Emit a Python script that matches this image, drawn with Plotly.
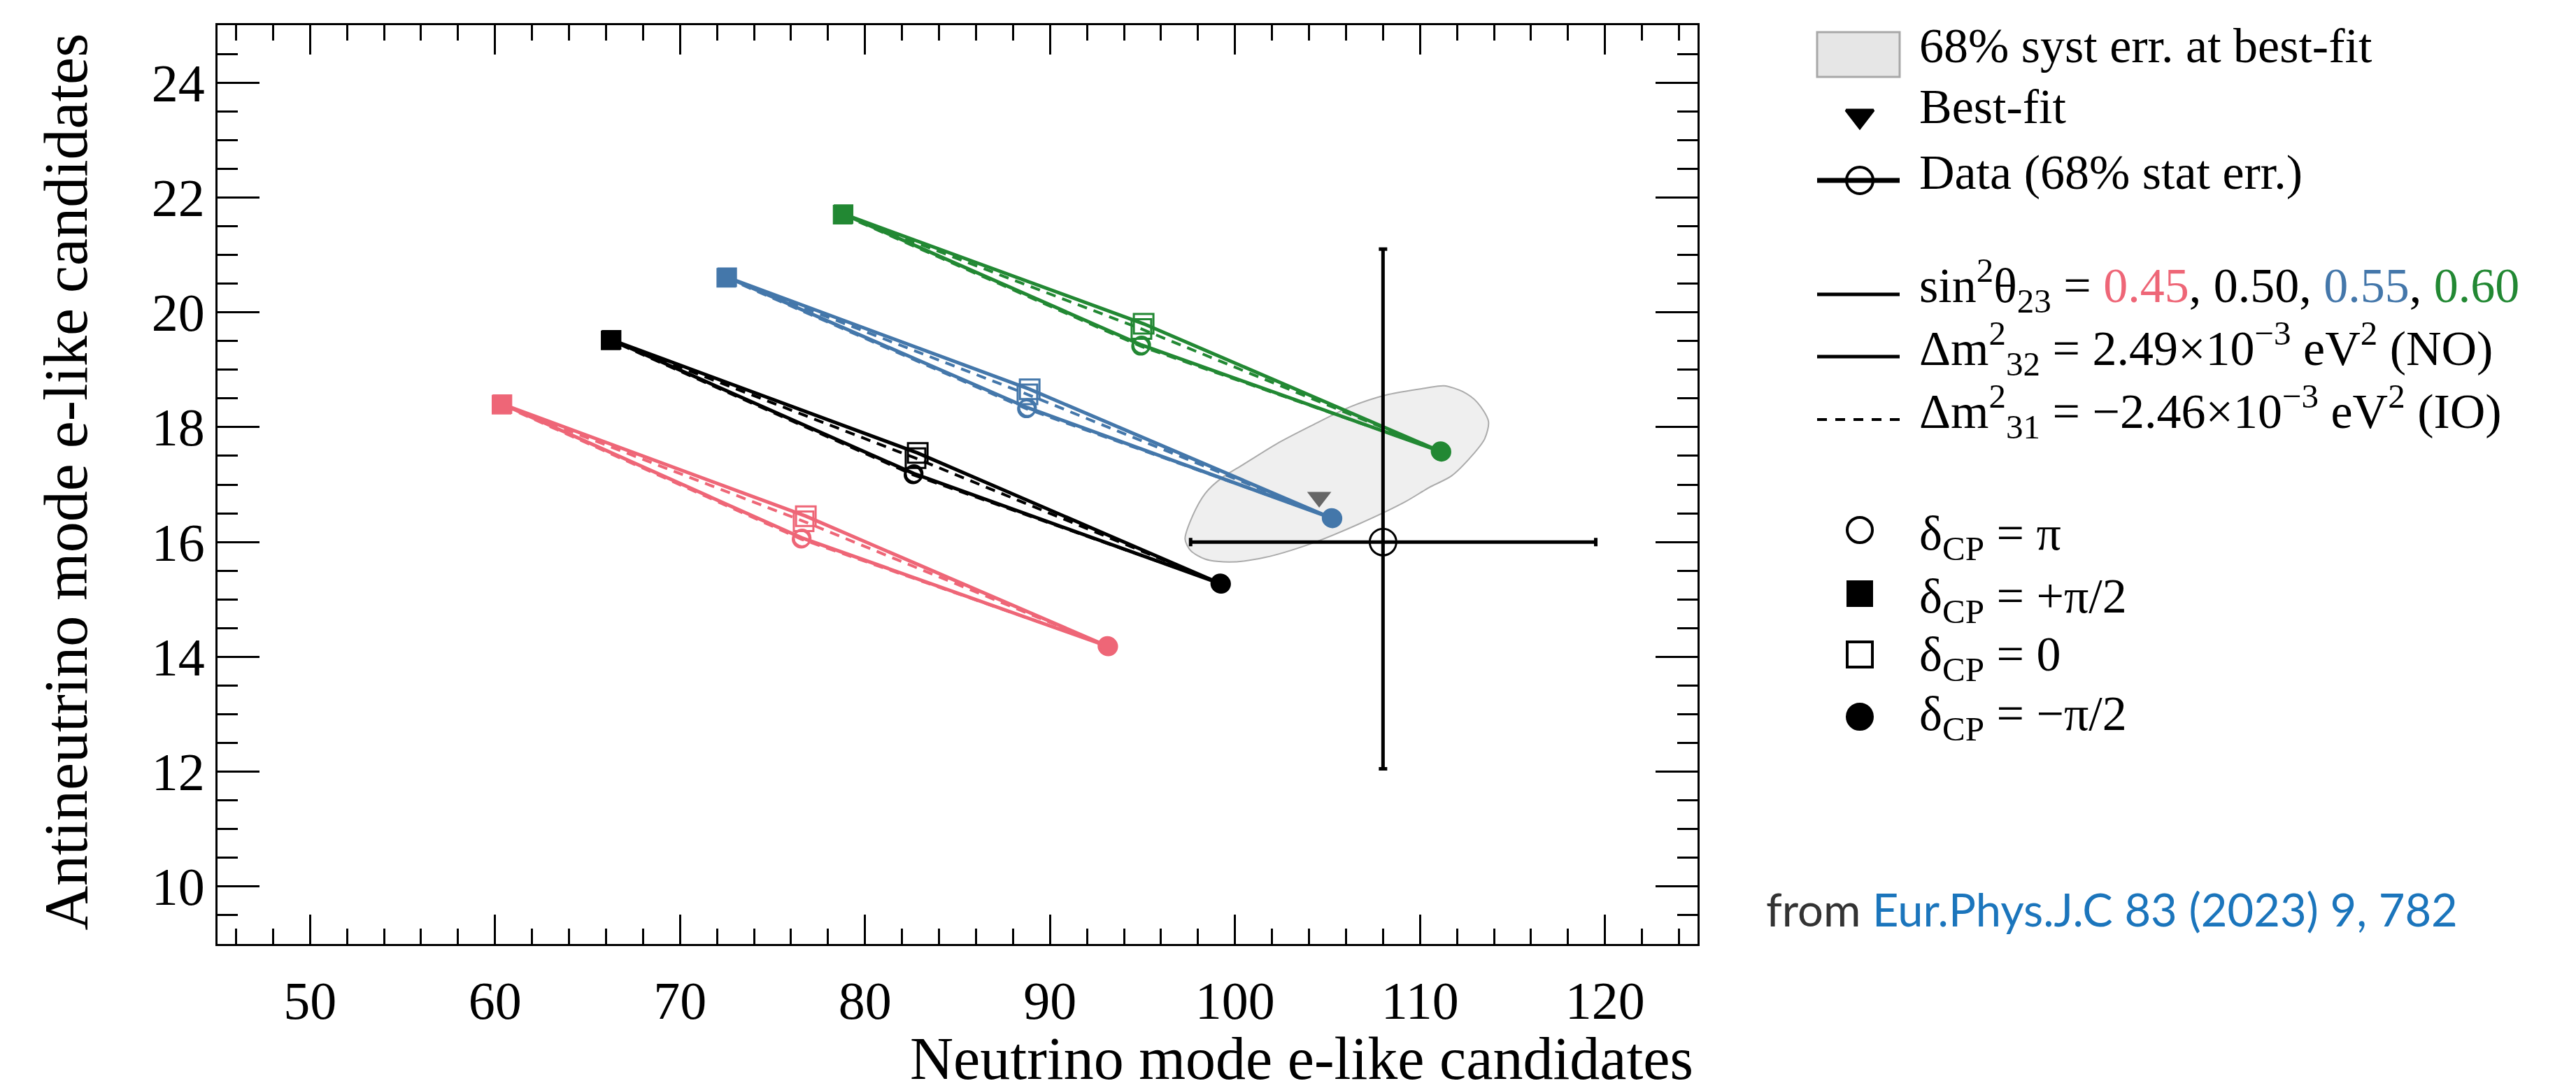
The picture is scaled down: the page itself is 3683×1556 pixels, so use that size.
import plotly.graph_objects as go

# ---------------- data ----------------
SIN2_LABELS = ["0.45", "0.50", "0.55", "0.60"]
SERIES_COLORS = ["#EE6677", "#000000", "#4477AA", "#228833"]
# order of points in every loop: dCP = +pi/2, 0, -pi/2, pi
DCP_LABELS = ["+π/2", "0", "−π/2", "π"]
DCP_SYMBOLS = ["square", "square-open", "circle", "circle-open"]

# Normal ordering (solid loops)
NO_X = [
    [60.40, 76.80, 93.15, 76.60],
    [66.30, 82.85, 99.25, 82.65],
    [72.55, 88.90, 105.27, 88.78],
    [78.84, 95.06, 111.16, 94.95],
]
NO_Y = [
    [18.40, 16.45, 14.18, 16.07],
    [19.52, 17.55, 15.27, 17.19],
    [20.61, 18.66, 16.41, 18.34],
    [21.71, 19.80, 17.57, 19.43],
]
# Inverted ordering (dashed loops)
IO_X = [
    [60.35, 76.68, 93.10, 76.55],
    [66.25, 82.73, 99.20, 82.60],
    [72.50, 88.78, 105.22, 88.73],
    [78.79, 94.94, 111.11, 94.90],
]
IO_Y = [
    [18.39, 16.36, 14.19, 16.05],
    [19.51, 17.46, 15.28, 17.17],
    [20.60, 18.57, 16.42, 18.32],
    [21.70, 19.71, 17.58, 19.41],
]

BESTFIT_X = [104.55]
BESTFIT_Y = [16.78]

DATA_X = [108.0]
DATA_Y = [16.0]
DATA_XERR_MINUS = [10.4]
DATA_XERR_PLUS = [11.5]
DATA_YERR_MINUS = [3.95]
DATA_YERR_PLUS = [5.1]

# 68% systematic error contour at best fit
SYST_X = [97.3, 97.7, 98.4, 99.3, 100.3, 102.2, 104.1, 106.2, 108.3, 110.3, 111.3, 112.3,
          113.1, 113.7, 113.5, 112.8, 111.7, 110.5, 109.2, 106.6, 104.1, 101.6, 99.7, 98.4,
          97.6, 97.3]
SYST_Y = [16.05, 16.45, 16.85, 17.12, 17.32, 17.70, 18.02, 18.35, 18.57, 18.68, 18.72, 18.62,
          18.43, 18.10, 17.80, 17.50, 17.15, 16.95, 16.70, 16.30, 15.97, 15.73, 15.65, 15.70,
          15.85, 16.05]

X_TICKS = [50, 60, 70, 80, 90, 100, 110, 120]
Y_TICKS = [10, 12, 14, 16, 18, 20, 22, 24]
X_RANGE = [45, 125]
Y_RANGE = [9, 25]

X_TITLE = "Neutrino mode e-like candidates"
Y_TITLE = "Antineutrino mode e-like candidates"

# ---------------- layout constants (pixels) ----------------
W, H = 3683, 1556
PX0, PX1, PY0, PY1 = 303, 2419, 28, 1342
SERIF = "Liberation Serif"

fig = go.Figure()

# systematic region
fig.add_trace(go.Scatter(
    x=SYST_X, y=SYST_Y, mode="lines", fill="toself", fillcolor="#EFEFEF",
    line=dict(color="#ABABAB", width=2, shape="spline", smoothing=0.8),
    hoverinfo="skip", showlegend=False))

# loops
for i in range(len(SIN2_LABELS)):
    c = SERIES_COLORS[i]
    fig.add_trace(go.Scatter(
        x=IO_X[i] + [IO_X[i][0]], y=IO_Y[i] + [IO_Y[i][0]], mode="lines",
        line=dict(color=c, width=4, dash="14px,10px"), showlegend=False,
        name="sin2=" + SIN2_LABELS[i] + " IO"))
    fig.add_trace(go.Scatter(
        x=NO_X[i] + [NO_X[i][0]], y=NO_Y[i] + [NO_Y[i][0]], mode="lines",
        line=dict(color=c, width=5), showlegend=False,
        name="sin2=" + SIN2_LABELS[i] + " NO"))

# markers on loops
for i in range(len(SIN2_LABELS)):
    c = SERIES_COLORS[i]
    for xs, ys in ((IO_X[i], IO_Y[i]), (NO_X[i], NO_Y[i])):
        fig.add_trace(go.Scatter(
            x=xs, y=ys, mode="markers", text=DCP_LABELS, showlegend=False,
            marker=dict(symbol=DCP_SYMBOLS, size=[25, 28, 25, 24], color=c, opacity=1,
                        line=dict(color=c, width=3))))

# best fit
fig.add_trace(go.Scatter(
    x=BESTFIT_X, y=BESTFIT_Y, mode="markers", showlegend=False,
    marker=dict(symbol="triangle-down", size=30, color="#666666", line=dict(width=0))))

# data point with stat errors
fig.add_trace(go.Scatter(
    x=DATA_X, y=DATA_Y, mode="markers", showlegend=False,
    marker=dict(symbol="circle-open", size=38, color="black", line=dict(color="black", width=3)),
    error_x=dict(type="data", symmetric=False, array=DATA_XERR_PLUS, arrayminus=DATA_XERR_MINUS,
                 color="black", thickness=5, width=6),
    error_y=dict(type="data", symmetric=False, array=DATA_YERR_PLUS, arrayminus=DATA_YERR_MINUS,
                 color="black", thickness=5, width=6)))

# ---------------- legend (drawn on a pixel-coordinate overlay axis) ----------------
LX0, LX1, LXC, TX = 2590, 2708, 2651, 2734
shapes = [
    dict(type="rect", xref="x2", yref="y2", x0=LX0, x1=LX1, y0=38, y1=102,
         fillcolor="#E6E6E6", line=dict(color="#A8A8A8", width=3)),
    dict(type="line", xref="x2", yref="y2", x0=LX0, x1=LX1, y0=250, y1=250,
         line=dict(color="black", width=7)),
    dict(type="line", xref="x2", yref="y2", x0=LX0, x1=LX1, y0=413, y1=413,
         line=dict(color="black", width=5)),
    dict(type="line", xref="x2", yref="y2", x0=LX0, x1=LX1, y0=502, y1=502,
         line=dict(color="black", width=5)),
    dict(type="line", xref="x2", yref="y2", x0=LX0, x1=LX1, y0=592, y1=592,
         line=dict(color="black", width=4, dash="14px,12px")),
]

leg_y = [158, 250, 750, 841, 928, 1017]
leg_sym = ["triangle-down", "circle-open", "circle-open", "square", "square-open", "circle"]
leg_size = [34, 38, 36, 34, 36, 36]
fig.add_trace(go.Scatter(
    x=[LXC] * len(leg_y), y=leg_y, mode="markers", xaxis="x2", yaxis="y2",
    showlegend=False, hoverinfo="skip", opacity=1,
    marker=dict(symbol=leg_sym, size=leg_size, color="#000000", opacity=1,
                line=dict(color="#000000", width=4))))

LFONT = dict(family=SERIF, size=70, color="black")
red, blue, green = SERIES_COLORS[0], SERIES_COLORS[2], SERIES_COLORS[3]
legend_texts = [
    ("68% syst err. at best-fit", 57),
    ("Best-fit", 144),
    ("Data (68% stat err.)", 238),
    ("sin<sup>2</sup>θ<sub>23</sub> = <span style='color:%s'>%s</span>, %s, "
     "<span style='color:%s'>%s</span>, <span style='color:%s'>%s</span>"
     % (red, SIN2_LABELS[0], SIN2_LABELS[1], blue, SIN2_LABELS[2], green, SIN2_LABELS[3]), 400),
    ("Δm<sup>2</sup><sub>32</sub> = 2.49×10<sup>−3</sup> eV<sup>2</sup> (NO)", 490),
    ("Δm<sup>2</sup><sub>31</sub> = −2.46×10<sup>−3</sup> eV<sup>2</sup> (IO)", 580),
    ("δ<sub>CP</sub> = π", 760),
    ("δ<sub>CP</sub> = +π/2", 850),
    ("δ<sub>CP</sub> = 0", 933),
    ("δ<sub>CP</sub> = −π/2", 1018),
]
annotations = []
for txt, yc in legend_texts:
    annotations.append(dict(text=txt, xref="x2", yref="y2", x=TX, y=yc, xanchor="left",
                            yanchor="middle", showarrow=False, font=LFONT))

annotations.append(dict(
    text="<span style='color:#333333'>from </span>Eur.Phys.J.C 83 (2023) 9, 782",
    xref="x2", yref="y2", x=2515, y=1292, xanchor="left", yanchor="middle", showarrow=False,
    font=dict(family="Lato", size=65, color="#1B75BC")))

# axis titles (ROOT style: aligned to the end of the axis)
annotations.append(dict(text=X_TITLE, xref="x2", yref="y2", x=2414, y=H - 1, xanchor="right",
                        yanchor="bottom", showarrow=False, borderpad=0,
                        font=dict(family=SERIF, size=86, color="black")))
annotations.append(dict(text=Y_TITLE, xref="x2", yref="y2", x=86, y=38, xanchor="center",
                        yanchor="top", textangle=-90, showarrow=False,
                        font=dict(family=SERIF, size=88, color="black")))

tickfont = dict(family=SERIF, size=76, color="black")
fig.update_layout(
    width=W, height=H, margin=dict(l=0, r=0, t=0, b=0),
    paper_bgcolor="white", plot_bgcolor="rgba(0,0,0,0)", showlegend=False,
    font=dict(family=SERIF, color="black"),
    xaxis=dict(domain=[PX0 / W, PX1 / W], range=X_RANGE, tickmode="array", tickvals=X_TICKS,
               ticks="inside", ticklen=42, tickwidth=3, tickcolor="black",
               showline=True, linecolor="black", linewidth=3, mirror="ticks",
               showgrid=False, zeroline=False, tickfont=tickfont, anchor="y",
               ticklabelstandoff=13,
               minor=dict(tickmode="linear", tick0=50, dtick=2, ticks="inside", ticklen=22,
                          tickwidth=3, tickcolor="black", showgrid=False)),
    yaxis=dict(domain=[(H - PY1) / H, (H - PY0) / H], range=Y_RANGE, tickmode="array",
               tickvals=Y_TICKS, ticks="inside", ticklen=60, tickwidth=3, tickcolor="black",
               showline=True, linecolor="black", linewidth=3, mirror="ticks",
               showgrid=False, zeroline=False, tickfont=tickfont, anchor="x",
               minor=dict(tickmode="linear", tick0=10, dtick=0.5, ticks="inside", ticklen=29,
                          tickwidth=3, tickcolor="black", showgrid=False)),
    xaxis2=dict(domain=[0, 1], range=[0, W], visible=False, anchor="y2", fixedrange=True),
    yaxis2=dict(domain=[0, 1], range=[H, 0], visible=False, anchor="x2", fixedrange=True),
    shapes=shapes, annotations=annotations,
)

fig.write_html("out.html")
